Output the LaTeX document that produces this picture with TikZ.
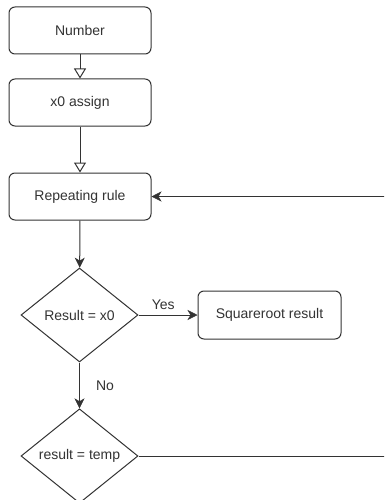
\documentclass[tikz,border=0pt]{standalone}
\usepackage{fontspec}
\setmainfont{Liberation Sans}
\usetikzlibrary{shapes.geometric,arrows.meta}
\definecolor{ink}{HTML}{333333}
\tikzset{
  stepbox/.style={draw=ink, line width=1pt, rounded corners=6pt, minimum width=142pt, minimum height=47pt, inner sep=0pt, text=ink, font=\fontsize{14}{16}\selectfont},
  decision/.style={draw=ink, line width=1pt, shape=diamond, minimum width=117pt, minimum height=94pt, inner sep=0pt, text=ink, font=\fontsize{14}{16}\selectfont},
  conn/.style={draw=ink, line width=1pt},
  openarr/.style={conn, -{Triangle[open, length=10pt, width=12pt, line width=1pt]}},
  fillarr/.style={conn, -{Stealth[length=10pt, width=10pt, inset=3pt, line width=0.5pt]}},
  lbl/.style={text=ink, font=\fontsize{14}{16}\selectfont, inner sep=0pt}
}
\begin{document}
\begin{tikzpicture}[x=1pt, y=-1pt]
\clip (0,0) rectangle (384,500);
\fill[white] (0,0) rectangle (384,500);
\node[stepbox] (num) at (80,30.5) {Number};
\node[stepbox] (x0) at (80,102.5) {x0 assign};
\node[stepbox] (rep) at (80,196.5) {Repeating rule};
\node[decision] (d1) at (79.5,315) {Result = x0};
\node[stepbox, minimum width=143pt, minimum height=48pt] (sq) at (269.5,315) {Squareroot result};
\node[decision] (d2) at (79.5,456) {result = temp};
\coordinate (loopA) at (400,456);
\coordinate (loopB) at (400,196.5);
\draw[openarr] (num) -- (x0);
\draw[openarr] (x0) -- (rep);
\draw[fillarr] (rep) -- (d1);
\draw[fillarr] (d1) -- node[lbl, above=5pt, pos=0.42] {Yes} (sq);
\draw[fillarr] (d1) -- node[lbl, right=16pt, pos=0.5] {No} (d2);
\draw[fillarr] (d2.east) -- (loopA) -- (loopB) -- (rep.east);
\end{tikzpicture}
\end{document}
